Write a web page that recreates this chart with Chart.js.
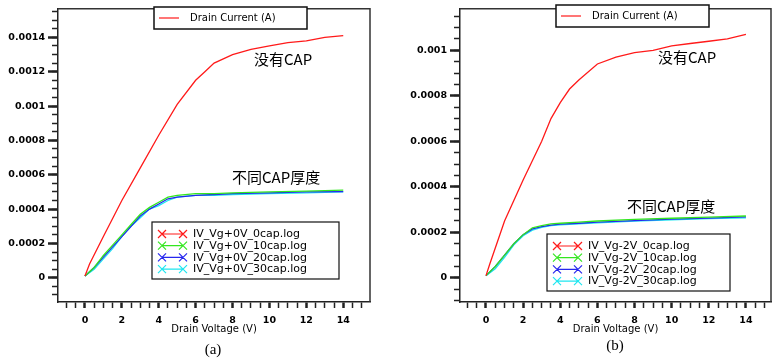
<!DOCTYPE html>
<html>
<head>
<meta charset="utf-8">
<script src="https://cdn.jsdelivr.net/npm/chart.js@4.4.1/dist/chart.umd.min.js"></script>
<style>
  body { margin: 0; background: #fff; }
  #wrap { position: relative; width: 776px; height: 359px; overflow: hidden; background: #fff; }
  canvas { position: absolute; top: 0; }
  #chartA { left: 0; }
  #chartB { left: 390px; }
</style>
</head>
<body>
<div id="wrap">
  <canvas id="chartA" width="390" height="359"></canvas>
  <canvas id="chartB" width="386" height="359"></canvas>
</div>
<script>
// ---- data ----
var topLegendText = 'Drain Current (A)';
var xTitle = 'Drain Voltage (V)';
var xLabelValues = [0, 2, 4, 6, 8, 10, 12, 14];

// panel (a): Vg + 0V
var labelsA = ['IV_Vg+0V_0cap.log', 'IV_Vg+0V_10cap.log', 'IV_Vg+0V_20cap.log', 'IV_Vg+0V_30cap.log'];
var voltsRedA = [0, 0.25, 1, 2, 3, 4, 5, 6, 6.5, 7, 8, 9, 10, 11, 12, 13, 14];
var cap0A = [0.00001, 0.00008, 0.00024, 0.00045, 0.00064, 0.00083, 0.00101, 0.00115, 0.0012, 0.00125, 0.0013, 0.00133, 0.00135, 0.00137, 0.00138, 0.0014, 0.00141];
var voltsCapA = [0, 0.5, 1, 1.5, 2, 2.5, 3, 3.5, 4, 4.5, 5, 6, 7, 8, 10, 12, 14];
var cap10A = [0.00001, 0.00006, 0.00013, 0.00019, 0.00025, 0.00031, 0.00037, 0.00041, 0.00044, 0.00047, 0.00048, 0.00049, 0.00049, 0.000495, 0.0005, 0.000505, 0.00051];
var cap20A = [0.00001, 0.00006, 0.00012, 0.00018, 0.00024, 0.0003, 0.00036, 0.0004, 0.00043, 0.00046, 0.00047, 0.00048, 0.000485, 0.00049, 0.000495, 0.0005, 0.000502];
var cap30A = [0.00001, 0.00005, 0.00011, 0.00017, 0.00024, 0.0003, 0.00035, 0.0004, 0.00042, 0.00045, 0.00047, 0.00048, 0.00048, 0.000485, 0.00049, 0.000495, 0.0005];
var yMajorA = [0, 0.0002, 0.0004, 0.0006, 0.0008, 0.001, 0.0012, 0.0014];

// panel (b): Vg - 2V
var labelsB = ['IV_Vg-2V_0cap.log', 'IV_Vg-2V_10cap.log', 'IV_Vg-2V_20cap.log', 'IV_Vg-2V_30cap.log'];
var voltsRedB = [0, 0.2, 1, 2, 3, 3.5, 4, 4.5, 5, 6, 7, 8, 9, 10, 11, 12, 13, 14];
var cap0B = [0.00001, 0.00006, 0.00025, 0.00043, 0.0006, 0.0007, 0.00077, 0.00083, 0.00087, 0.00094, 0.00097, 0.00099, 0.001, 0.00102, 0.00103, 0.00104, 0.00105, 0.00107];
var voltsCapB = [0, 0.5, 1, 1.5, 2, 2.5, 3, 3.5, 4, 5, 6, 8, 10, 12, 14];
var cap10B = [0.00001, 0.00005, 0.0001, 0.00015, 0.00019, 0.00022, 0.00023, 0.000237, 0.00024, 0.000245, 0.00025, 0.000257, 0.000262, 0.000267, 0.000272];
var cap20B = [0.00001, 0.00005, 0.0001, 0.00015, 0.00019, 0.000215, 0.000225, 0.000232, 0.000236, 0.00024, 0.000245, 0.000252, 0.000258, 0.000263, 0.000268];
var cap30B = [0.00001, 0.00004, 0.00009, 0.000145, 0.000185, 0.00021, 0.000222, 0.00023, 0.000233, 0.000237, 0.000242, 0.000249, 0.000255, 0.00026, 0.000264];
var yMajorB = [0, 0.0002, 0.0004, 0.0006, 0.0008, 0.001];

var colors = ['#ff1a1a', '#33e61f', '#2626ee', '#1fe6f0'];

function toPoints(xs, ys) {
    return xs.map(function (x, i) { return { x: x, y: ys[i] }; });
}

function steps(from, to, step) {
    var out = [];
    for (var i = Math.round(from / step); i <= Math.round(to / step); i++) out.push({ value: i * step });
    return out;
}

// legends, notes, frame
var decor = {
    id: 'decor',
    afterDraw: function (chart, args, o) {
        var ctx = chart.ctx, a = chart.chartArea;
        ctx.save();
        // top + right frame
        ctx.strokeStyle = '#333';
        ctx.lineWidth = 1.5;
        ctx.beginPath();
        ctx.moveTo(a.left, a.top);
        ctx.lineTo(a.right, a.top);
        ctx.lineTo(a.right, a.bottom);
        ctx.stroke();

        // "Drain Current (A)" legend
        var t = o.topBox;
        ctx.fillStyle = '#fff';
        ctx.fillRect(t.x, t.y, t.w, t.h);
        ctx.strokeStyle = '#111';
        ctx.lineWidth = 1.5;
        ctx.strokeRect(t.x, t.y, t.w, t.h);
        var midY = t.y + t.h / 2;
        ctx.strokeStyle = colors[0];
        ctx.lineWidth = 1.2;
        ctx.beginPath();
        ctx.moveTo(t.x + 5, midY);
        ctx.lineTo(t.x + 25, midY);
        ctx.stroke();
        ctx.fillStyle = '#000';
        ctx.font = '10px "DejaVu Sans"';
        ctx.textBaseline = 'middle';
        ctx.fillText(topLegendText, t.x + 36, midY + 0.5);

        // series legend
        var b = o.seriesBox;
        ctx.fillStyle = '#fff';
        ctx.fillRect(b.x, b.y, b.w, b.h);
        ctx.strokeStyle = '#111';
        ctx.lineWidth = 1.2;
        ctx.strokeRect(b.x, b.y, b.w, b.h);
        ctx.font = '11px "DejaVu Sans"';
        chart.data.datasets.forEach(function (ds, i) {
            var ry = b.y + 12 + i * 11.7;
            var x1 = b.x + 10, x2 = b.x + 31, s = 4;
            ctx.strokeStyle = ds.borderColor;
            ctx.lineWidth = 1.2;
            ctx.beginPath();
            ctx.moveTo(x1, ry); ctx.lineTo(x2, ry);
            [x1, x2].forEach(function (cx) {
                ctx.moveTo(cx - s, ry - s); ctx.lineTo(cx + s, ry + s);
                ctx.moveTo(cx - s, ry + s); ctx.lineTo(cx + s, ry - s);
            });
            ctx.stroke();
            ctx.fillStyle = '#000';
            ctx.fillText(ds.label, b.x + 41, ry + 0.5);
        });

        // notes
        ctx.font = '15px "Noto Sans CJK SC"';
        ctx.fillStyle = '#000';
        o.notes.forEach(function (n) { ctx.fillText(n.text, n.x, n.y); });

        // caption
        ctx.font = '15px "Liberation Serif"';
        ctx.textAlign = 'center';
        ctx.fillText(o.caption.text, o.caption.x, o.caption.y);
        ctx.restore();
    }
};

function makeChart(id, cfg) {
    var tickFont = { family: 'DejaVu Sans', size: 9.5, weight: 'bold' };
    return new Chart(document.getElementById(id), {
        type: 'line',
        data: {
            datasets: cfg.series.map(function (s, i) {
                return {
                    label: cfg.labels[i],
                    data: toPoints(s.x, s.y),
                    borderColor: colors[i],
                    borderWidth: 1.3,
                    pointRadius: 0,
                    tension: 0,
                    fill: false
                };
            })
        },
        options: {
            responsive: false,
            animation: false,
            devicePixelRatio: 1,
            layout: { padding: { top: cfg.top, right: cfg.right, left: 0, bottom: 0 } },
            plugins: {
                legend: { display: false },
                tooltip: { enabled: false },
                decor: cfg.decor
            },
            scales: {
                x: {
                    type: 'linear',
                    min: cfg.xMin,
                    max: cfg.xMax,
                    afterBuildTicks: function (s) { s.ticks = steps(-1, 15, 0.5); },
                    afterFit: function (s) { s.height = 57; },
                    ticks: {
                        autoSkip: false,
                        maxRotation: 0,
                        padding: 7,
                        color: '#000',
                        font: tickFont,
                        callback: function (v) { return xLabelValues.indexOf(v) >= 0 ? String(v) : ''; }
                    },
                    grid: {
                        drawOnChartArea: false,
                        tickLength: 6,
                        tickColor: '#222',
                        tickWidth: function (c) { return c.tick && Math.abs(c.tick.value % 2) < 1e-9 ? 2.5 : 1.5; }
                    },
                    border: { color: '#222', width: 1.5 },
                    title: {
                        display: true,
                        text: xTitle,
                        color: '#000',
                        font: { family: 'DejaVu Sans', size: 10 },
                        padding: { top: 0, bottom: 24 }
                    }
                },
                y: {
                    type: 'linear',
                    position: 'left',
                    weight: 1,
                    min: cfg.yMin,
                    max: cfg.yMax,
                    afterBuildTicks: function (s) { s.ticks = cfg.yMajor.map(function (v) { return { value: v }; }); },
                    afterFit: function (s) { s.width = cfg.left; },
                    ticks: {
                        padding: 3,
                        color: '#000',
                        font: tickFont,
                        callback: function (v) { return String(Number(v.toFixed(6))); }
                    },
                    grid: { drawOnChartArea: false, tickLength: 10, tickWidth: 2.5, tickColor: '#222' },
                    border: { color: '#222', width: 1.5 }
                },
                yMinor: {
                    type: 'linear',
                    position: 'left',
                    weight: 0,
                    min: cfg.yMin,
                    max: cfg.yMax,
                    afterBuildTicks: function (s) { s.ticks = steps(cfg.minorFrom, cfg.minorTo, 0.00005); },
                    afterFit: function (s) { s.width = 0; },
                    ticks: { display: false },
                    grid: { drawOnChartArea: false, tickLength: 6, tickWidth: 1.5, tickColor: '#222' },
                    border: { display: false }
                }
            }
        },
        plugins: [decor]
    });
}

makeChart('chartA', {
    labels: labelsA,
    series: [
        { x: voltsRedA, y: cap0A },
        { x: voltsCapA, y: cap10A },
        { x: voltsCapA, y: cap20A },
        { x: voltsCapA, y: cap30A }
    ],
    top: 8, right: 20, left: 58,
    xMin: -1.46, xMax: 15.45,
    yMin: -0.000141, yMax: 0.001567,
    yMajor: yMajorA, minorFrom: -0.0001, minorTo: 0.00155,
    decor: {
        topBox: { x: 154, y: 7, w: 153, h: 22 },
        seriesBox: { x: 152, y: 222, w: 187, h: 57 },
        notes: [
            { text: '没有CAP', x: 254, y: 59 },
            { text: '不同CAP厚度', x: 232, y: 177 }
        ],
        caption: { text: '(a)', x: 213, y: 350 }
    }
});

makeChart('chartB', {
    labels: labelsB,
    series: [
        { x: voltsRedB, y: cap0B },
        { x: voltsCapB, y: cap10B },
        { x: voltsCapB, y: cap20B },
        { x: voltsCapB, y: cap30B }
    ],
    top: 6, right: 5, left: 70,
    xMin: -1.4, xMax: 15.35,
    yMin: -0.000106, yMax: 0.001183,
    yMajor: yMajorB, minorFrom: -0.0001, minorTo: 0.00115,
    decor: {
        topBox: { x: 166, y: 5, w: 153, h: 22 },
        seriesBox: { x: 157, y: 234, w: 183, h: 57 },
        notes: [
            { text: '没有CAP', x: 268, y: 57 },
            { text: '不同CAP厚度', x: 237, y: 206 }
        ],
        caption: { text: '(b)', x: 225, y: 346 }
    }
});
</script>
</body>
</html>
